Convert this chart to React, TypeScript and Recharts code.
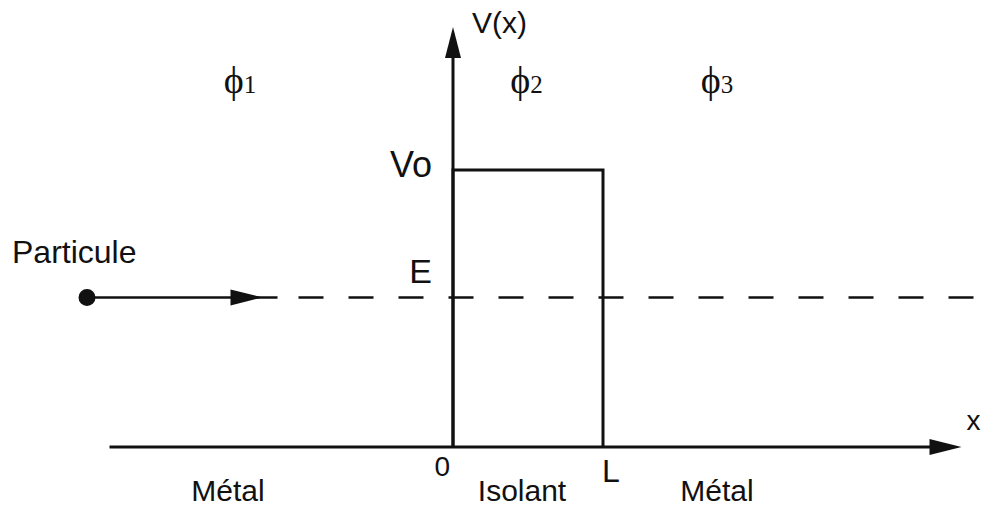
import React from 'react';
import { ComposedChart, Line, XAxis, YAxis, ReferenceLine, ReferenceDot } from 'recharts';

// Potential barrier (x in units of L, V in units of Vo)
const L = 1;
const V0 = 1;
const E = 0.54;
const barrierX = [0, 0, L, L];
const barrierV = [0, V0, V0, 0];

// Incoming particle and energy level
const particleStartX = -2.44;
const particleArrowTipX = -1.27;
const particleSolidEndX = -1.17;
const energyDashStartX = -1.03;
const energyDashEndX = 3.52;

// Axes extent
const xAxisFrom = -2.29;
const xAxisTip = 3.39;
const vAxisTip = 1.516;

// Text
const regionNames = ['Métal', 'Isolant', 'Métal'];
const regionCenters = [-1.5, 0.46, 1.76];
const waveNames = ['1', '2', '3'];
const waveCenters = [-1.42, 0.49, 1.76];
const waveLevel = 1.278;
const tickLabels = ['0', 'L'];

const X_DOMAIN: [number, number] = [-3.02, 3.52];
const Y_DOMAIN: [number, number] = [-0.2202, 1.6137];

const barrierData = barrierX.map((x, i) => ({ x, v: barrierV[i] }));
const particleData = [
  { x: particleStartX, v: E },
  { x: particleSolidEndX, v: E },
];
const energyData = [
  { x: energyDashStartX, v: E },
  { x: energyDashEndX, v: E },
];

const SANS = '"Liberation Sans", Arial, Helvetica, sans-serif';
const SERIF = '"Liberation Serif", "Times New Roman", serif';
const INK = '#111';

const textShape =
  (content: React.ReactNode, dx: number, dy: number, size: number, anchor: string = 'start', family: string = SANS) =>
  (p: any) => (
    <text
      x={p.cx + dx}
      y={p.cy + dy}
      fontSize={size}
      fontFamily={family}
      textAnchor={anchor}
      fill={INK}
    >
      {content}
    </text>
  );

const arrowRight = (p: any) => (
  <polygon
    points={`${p.cx},${p.cy} ${p.cx - 32},${p.cy - 8} ${p.cx - 32},${p.cy + 8}`}
    fill={INK}
  />
);
const arrowUp = (p: any) => (
  <polygon
    points={`${p.cx},${p.cy} ${p.cx - 8},${p.cy + 31} ${p.cx + 8},${p.cy + 31}`}
    fill={INK}
  />
);
const particleShape = (p: any) => (
  <g>
    <circle cx={p.cx} cy={p.cy} r={4.5} fill={INK} stroke={INK} strokeWidth={8} />
    <text x={p.cx - 75} y={p.cy - 34} fontSize={32} fontFamily={SANS} fill={INK}>
      Particule
    </text>
  </g>
);

export default function App() {
  return (
    <div style={{ position: 'absolute', left: 0, top: 0, background: '#fff' }}>
      <ComposedChart width={981} height={508} margin={{ top: 0, right: 0, bottom: 0, left: 0 }}>
        <XAxis type="number" dataKey="x" domain={X_DOMAIN} allowDataOverflow hide />
        <YAxis type="number" dataKey="v" domain={Y_DOMAIN} allowDataOverflow hide />

        {/* axes */}
        <ReferenceLine
          segment={[{ x: xAxisFrom, y: 0 }, { x: xAxisTip - 0.15, y: 0 }]}
          stroke={INK}
          strokeWidth={3}
          ifOverflow="visible"
        />
        <ReferenceLine
          segment={[{ x: 0, y: 0 }, { x: 0, y: vAxisTip - 0.08 }]}
          stroke={INK}
          strokeWidth={3}
          ifOverflow="visible"
        />
        <ReferenceDot x={xAxisTip} y={0} r={0} shape={arrowRight} ifOverflow="visible" />
        <ReferenceDot x={0} y={vAxisTip} r={0} shape={arrowUp} ifOverflow="visible" />

        {/* barrier */}
        <Line
          data={barrierData}
          dataKey="v"
          type="linear"
          stroke={INK}
          strokeWidth={3}
          dot={false}
          activeDot={false}
          isAnimationActive={false}
        />

        {/* particle */}
        <Line
          data={particleData}
          dataKey="v"
          type="linear"
          stroke={INK}
          strokeWidth={2.5}
          dot={false}
          activeDot={false}
          isAnimationActive={false}
        />
        <Line
          data={energyData}
          dataKey="v"
          type="linear"
          stroke={INK}
          strokeWidth={2.5}
          strokeDasharray="25 25"
          dot={false}
          activeDot={false}
          isAnimationActive={false}
        />
        <ReferenceDot x={particleArrowTipX} y={E} r={0} shape={arrowRight} ifOverflow="visible" />
        <ReferenceDot x={particleStartX} y={E} r={8} shape={particleShape} ifOverflow="visible" />

        {/* labels */}
        <ReferenceDot x={0} y={vAxisTip} r={0} shape={textShape('V(x)', 19, 6, 30)} />
        <ReferenceDot x={0} y={V0} r={0} shape={textShape('Vo', -21, 7, 36, 'end')} />
        <ReferenceDot x={0} y={E} r={0} shape={textShape('E', -21, -14, 34, 'end')} />
        <ReferenceDot x={xAxisTip} y={0} r={0} shape={textShape('x', 5, -17, 28)} />
        <ReferenceDot x={0} y={0} r={0} shape={textShape(tickLabels[0], -3, 29, 28, 'end')} />
        <ReferenceDot x={L} y={0} r={0} shape={textShape(tickLabels[1], -1, 35, 32)} />

        {regionNames.map((name, i) => (
          <ReferenceDot
            key={'r' + i}
            x={regionCenters[i]}
            y={0}
            r={0}
            shape={textShape(name, 0, 54, 30, 'middle')}
          />
        ))}
        {waveNames.map((n, i) => (
          <ReferenceDot
            key={'w' + i}
            x={waveCenters[i]}
            y={waveLevel}
            r={0}
            shape={textShape(
              <>
                ϕ<tspan fontSize={25}>{n}</tspan>
              </>,
              0,
              0,
              38,
              'middle',
              SERIF
            )}
          />
        ))}
      </ComposedChart>
    </div>
  );
}
